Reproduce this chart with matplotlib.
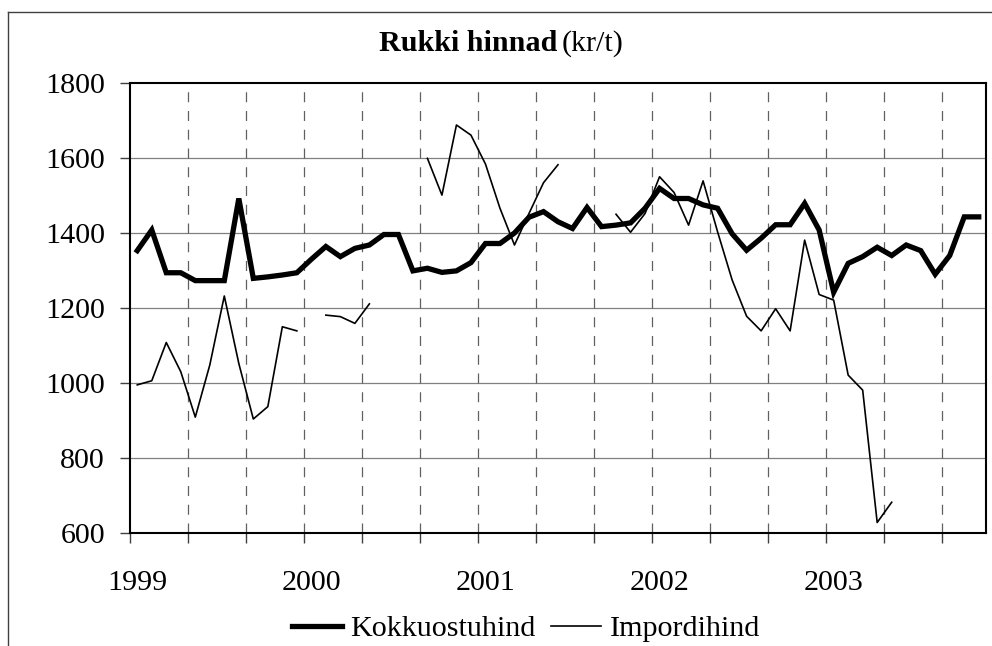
import numpy as np
import matplotlib

matplotlib.use("Agg")
import matplotlib.pyplot as plt
from matplotlib.lines import Line2D

nan = np.nan

# monthly values, Jan 1999 .. Nov 2003
year_labels = ["1999", "2000", "2001", "2002", "2003"]
kokkuostuhind = [
    1353, 1408, 1294, 1294, 1273, 1273, 1273, 1492, 1279, 1283, 1288, 1294,
    1330, 1364, 1337, 1359, 1368, 1396, 1396, 1299, 1306, 1295, 1299, 1321,
    1372, 1372, 1400, 1442, 1457, 1430, 1412, 1468, 1417, 1421, 1427, 1466,
    1519, 1492, 1492, 1475, 1466, 1398, 1354, 1386, 1422, 1422, 1479, 1408,
    1242, 1319, 1337, 1362, 1340, 1368, 1353, 1290, 1340, 1443, 1443,
]
impordihind = [
    995, 1006, 1108, 1030, 909, 1048, 1232, 1052, 904, 937, 1150, 1139,
    nan, 1181, 1177, 1159, 1211, nan, nan, nan, 1599, 1501, 1688, 1661,
    1584, 1466, 1368, 1452, 1534, 1582, nan, nan, nan, 1450, 1402, 1452,
    1550, 1508, 1421, 1539, 1403, 1275, 1178, 1139, 1198, 1139, 1381, 1236,
    1221, 1021, 981, 628, 682, nan, nan, nan, nan, nan, nan,
]

plt.rcParams["font.family"] = ["Liberation Serif", "DejaVu Serif"]
FS = 21.6

W, H = 992, 646
fig = plt.figure(figsize=(W / 100, H / 100), dpi=100)
ax = fig.add_axes([130 / W, 1 - 533 / H, (986 - 130) / W, (533 - 83) / H])

n = len(kokkuostuhind)
x = np.arange(n)

# grid
for v in range(800, 1800, 200):
    ax.axhline(v, color="#808080", lw=0.9, zorder=1)
for k in np.arange(3.5, n - 0.5, 4):
    ax.axvline(k, color="#606060", lw=0.9, ls=(0, (8, 7)), zorder=1)

ax.plot(x, impordihind, color="black", lw=1.2, zorder=3)
ax.plot(x, kokkuostuhind, color="black", lw=3.8, zorder=4,
        solid_joinstyle="miter")

ax.set_xlim(-0.5, n - 0.5)
ax.set_ylim(600, 1800)
ax.set_yticks(range(600, 1801, 200))
ax.set_xticks(np.arange(-0.5, n - 0.5, 4))
ax.set_xticklabels([])
ax.set_xticks(range(0, n, 12), minor=True)
ax.set_xticklabels(year_labels, minor=True)
ax.tick_params(axis="x", which="major", length=7, width=1, color="#404040")
ax.tick_params(axis="x", which="minor", length=0, pad=27, labelsize=FS)
ax.tick_params(axis="y", length=7, width=1, color="#404040", pad=11,
               labelsize=FS)
for s in ax.spines.values():
    s.set_linewidth(1.5)
    s.set_color("black")

# title: bold part + normal part
ty = 1 - 51 / H
fig.text(557 / W, ty, "Rukki hinnad", ha="right", va="baseline",
         fontsize=FS, fontweight="bold")
fig.text(562 / W, ty, "(kr/t)", ha="left", va="baseline", fontsize=FS)

# outer chart border (cropped at right/bottom)
fig.add_artist(Line2D([8 / W, 8 / W], [0, 1 - 12 / H], color="#404040",
                      lw=1, transform=fig.transFigure))
fig.add_artist(Line2D([8 / W, 1], [1 - 12 / H, 1 - 12 / H], color="#404040",
                      lw=1, transform=fig.transFigure))

handles = [Line2D([], [], color="black", lw=3.8),
           Line2D([], [], color="black", lw=1.2)]
fig.legend(handles, ["Kokkuostuhind", "Impordihind"], loc="center",
           bbox_to_anchor=(526 / W, 1 - 629 / H), ncol=2, frameon=False,
           fontsize=FS, handlelength=1.65, handletextpad=0.3,
           columnspacing=0.5, borderpad=0)

fig.savefig("out.png", dpi=100)
